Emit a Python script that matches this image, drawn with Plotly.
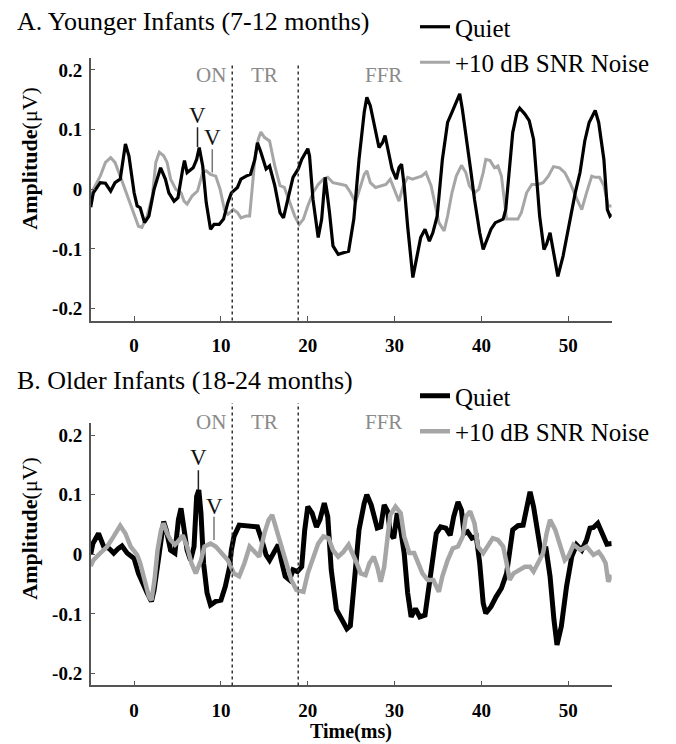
import plotly.graph_objects as go

# ---------------- data ----------------
t_young_quiet = [-5.0, -4.7, -3.9, -3.3, -2.7, -2.2, -1.6, -1.0, -0.6, 0.0, 0.35, 0.7, 1.2, 1.7, 2.3, 3.05,
                 3.6, 4.0, 4.6, 5.05, 5.6, 5.8, 6.1, 6.8, 7.2, 7.5, 7.9, 8.3, 8.8, 9.2, 9.8, 10.3, 10.8,
                 11.2, 11.9, 12.3, 12.9, 13.4, 13.9, 14.2, 14.6, 15.2, 15.6, 16.2, 16.8, 17.2, 17.7, 18.3,
                 18.9, 19.3, 20.0, 20.2, 20.6, 21.2, 21.6, 22.0, 22.5, 22.9, 23.5, 24.1, 24.7, 25.3, 25.9,
                 26.5, 26.8, 27.2, 27.8, 28.2, 28.6, 28.9, 29.3, 29.7, 30.2, 30.5, 30.8, 31.1, 31.5, 31.9,
                 32.1, 32.5, 33.0, 33.5, 34.0, 34.4, 34.9, 35.5, 36.1, 36.6, 37.1, 37.5, 37.8, 38.3, 38.8,
                 39.2, 39.8, 40.2, 40.6, 41.1, 41.6, 42.1, 42.5, 42.8, 43.25, 43.6, 44.1, 44.4, 45.0, 45.5,
                 46.0, 46.3, 46.7, 47.2, 47.5, 47.9, 48.3, 48.8, 49.4, 50.1, 50.8, 51.35, 51.9, 52.4, 52.9,
                 53.1, 53.5, 54.1, 54.5, 54.8, 55.0]
a_young_quiet = [-0.030, -0.006, 0.011, 0.010, -0.003, 0.011, 0.017, 0.076, 0.056, -0.006, -0.028, -0.031,
                 -0.056, -0.045, 0.000, 0.036, 0.017, -0.006, -0.020, -0.014, 0.034, 0.048, 0.028, 0.036,
                 0.050, 0.070, 0.039, -0.022, -0.067, -0.059, -0.059, -0.050, -0.022, -0.006, 0.003, 0.017,
                 0.022, 0.025, 0.050, 0.078, 0.062, 0.034, 0.039, 0.006, -0.039, -0.048, -0.017, 0.020,
                 0.034, 0.050, 0.068, 0.056, -0.017, -0.081, -0.050, 0.020, -0.039, -0.095, -0.109, -0.106,
                 -0.104, -0.050, 0.050, 0.129, 0.154, 0.140, 0.095, 0.070, 0.078, 0.090, 0.062, 0.034, 0.017,
                 0.036, 0.042, 0.006, -0.062, -0.129, -0.148, -0.118, -0.081, -0.067, -0.087, -0.073, -0.045,
                 0.050, 0.112, 0.129, 0.146, 0.160, 0.134, 0.084, 0.028, -0.017, -0.073, -0.101, -0.087,
                 -0.067, -0.056, -0.053, -0.050, -0.034, 0.034, 0.095, 0.129, 0.136, 0.126, 0.115, 0.084,
                 0.022, -0.045, -0.101, -0.092, -0.073, -0.106, -0.146, -0.112, -0.056, -0.006, 0.028, 0.081,
                 0.112, 0.126, 0.132, 0.112, 0.050, -0.034, -0.045, -0.042]

t_young_noise = [-5.0, -4.7, -3.9, -3.3, -2.7, -2.2, -1.6, -1.2, -0.6, 0.0, 0.5, 0.9, 1.5, 2.1, 2.5, 2.9,
                 3.4, 3.8, 4.2, 4.8, 5.4, 5.75, 6.1, 6.7, 7.3, 7.9, 8.3, 8.8, 9.4, 9.9, 10.4, 10.8, 11.4,
                 11.9, 12.3, 12.9, 13.3, 13.55, 13.9, 14.3, 14.6, 15.0, 15.6, 16.2, 16.8, 17.3, 17.9, 18.5,
                 19.0, 19.5, 20.0, 20.6, 21.2, 21.8, 22.3, 22.9, 23.9, 24.4, 24.9, 25.5, 26.1, 26.5, 26.8,
                 27.2, 27.8, 28.4, 29.0, 29.5, 30.1, 30.5, 31.0, 31.5, 32.05, 32.6, 33.1, 33.6, 34.2, 34.7,
                 35.1, 35.7, 36.1, 36.6, 37.1, 37.7, 38.2, 38.6, 39.2, 39.7, 40.2, 40.5, 41.0, 41.5, 41.9,
                 42.3, 42.7, 42.9, 43.45, 44.2, 44.6, 45.2, 45.8, 46.5, 47.1, 47.7, 48.3, 49.0, 49.6, 50.2,
                 51.0, 51.55, 52.1, 52.7, 53.1, 53.6, 54.1, 54.6, 55.0]
a_young_noise = [-0.014, 0.000, 0.022, 0.045, 0.053, 0.045, 0.022, 0.006, -0.017, -0.039, -0.062, -0.064,
                 -0.045, -0.011, 0.045, 0.062, 0.056, 0.045, 0.017, 0.000, -0.006, -0.020, -0.025, -0.011,
                 -0.003, 0.028, 0.031, 0.025, 0.022, 0.000, -0.034, -0.042, -0.034, -0.039, -0.048, -0.045,
                 -0.045, -0.006, 0.050, 0.084, 0.096, 0.087, 0.081, 0.039, 0.006, 0.003, -0.022, -0.045,
                 -0.059, -0.050, -0.028, -0.006, 0.008, 0.017, 0.020, 0.011, 0.008, 0.006, -0.005, -0.022,
                 0.006, 0.025, 0.031, 0.011, 0.003, 0.006, 0.008, 0.017, -0.006, -0.020, 0.006, 0.020, 0.017,
                 0.020, 0.022, 0.028, 0.006, -0.028, -0.056, -0.070, -0.045, -0.006, 0.022, 0.040, 0.028,
                 0.006, -0.006, 0.000, 0.028, 0.050, 0.048, 0.036, 0.039, 0.022, -0.028, -0.050, -0.050,
                 -0.050, -0.039, -0.006, 0.008, 0.008, 0.011, 0.022, 0.038, 0.036, 0.028, 0.011, -0.017,
                 -0.034, -0.006, 0.022, 0.020, 0.020, 0.006, -0.028, -0.028]

t_older_quiet = [-5.0, -4.75, -4.1, -3.5, -2.9, -2.35, -1.8, -1.4, -0.8, 0.0, 0.5, 1.1, 1.5, 2.0, 2.3, 2.9,
                 3.4, 3.7, 4.2, 4.7, 5.1, 5.4, 5.75, 6.1, 6.5, 6.9, 7.2, 7.45, 7.7, 8.0, 8.4, 8.8, 9.4, 10.0,
                 10.5, 11.0, 11.2, 11.5, 12.1, 12.9, 13.7, 14.2, 14.7, 15.2, 15.6, 16.2, 16.6, 16.95, 17.4,
                 17.9, 18.3, 18.8, 19.3, 19.65, 20.0, 20.5, 21.0, 21.4, 21.9, 22.3, 22.7, 23.3, 23.9, 24.5,
                 24.9, 25.3, 25.9, 26.5, 26.8, 27.3, 28.0, 28.4, 28.8, 29.2, 29.5, 29.9, 30.3, 30.7, 31.1,
                 31.5, 31.9, 32.4, 32.9, 33.5, 34.0, 34.45, 34.8, 35.3, 35.9, 36.4, 36.8, 37.3, 37.7, 38.0,
                 38.4, 38.9, 39.4, 39.8, 40.2, 40.5, 41.1, 41.7, 42.3, 42.9, 43.25, 43.6, 44.2, 44.8, 45.4,
                 45.6, 46.0, 46.5, 46.9, 47.4, 47.9, 48.35, 48.7, 49.2, 49.8, 50.4, 50.95, 51.55, 52.1, 52.5,
                 52.9, 53.4, 53.9, 54.45, 55.0]
a_older_quiet = [0.000, 0.018, 0.035, 0.013, 0.010, 0.002, 0.010, 0.014, 0.002, -0.007, -0.032, -0.054,
                 -0.065, -0.079, -0.060, 0.002, 0.055, 0.041, 0.007, 0.002, 0.058, 0.077, 0.041, 0.007,
                 -0.010, 0.013, 0.097, 0.108, 0.069, -0.015, -0.065, -0.085, -0.079, -0.077, -0.054, -0.021,
                 0.007, 0.030, 0.049, 0.048, 0.048, 0.046, 0.024, -0.001, -0.010, 0.007, 0.016, -0.010,
                 -0.037, -0.043, -0.026, -0.029, -0.021, 0.041, 0.080, 0.069, 0.046, 0.058, 0.086, 0.063,
                 -0.026, -0.093, -0.110, -0.125, -0.120, -0.050, 0.041, 0.086, 0.100, 0.083, 0.044, 0.046,
                 0.083, 0.072, 0.035, 0.027, 0.069, 0.041, 0.002, -0.065, -0.105, -0.091, -0.105, -0.102,
                 -0.054, 0.002, 0.035, 0.046, 0.044, 0.032, 0.063, 0.088, 0.074, 0.035, 0.038, 0.027, 0.030,
                 -0.015, -0.082, -0.099, -0.088, -0.071, -0.057, -0.032, 0.013, 0.041, 0.048, 0.049, 0.091,
                 0.105, 0.080, 0.030, -0.001, 0.013, -0.037, -0.110, -0.152, -0.121, -0.054, -0.004, 0.016,
                 0.007, 0.024, 0.044, 0.045, 0.052, 0.035, 0.017, 0.018]

t_older_noise = [-5.0, -4.7, -3.9, -3.1, -2.35, -1.6, -1.0, -0.4, 0.35, 0.7, 1.2, 1.7, 2.0, 2.35, 2.7, 3.1,
                 3.4, 3.8, 4.2, 4.7, 5.2, 5.6, 6.1, 6.6, 7.1, 7.7, 8.1, 8.8, 9.4, 10.0, 10.8, 11.5, 12.1,
                 12.7, 13.3, 13.9, 14.4, 15.0, 15.5, 15.9, 16.4, 16.95, 17.5, 18.1, 18.7, 19.5, 20.0, 20.6,
                 21.2, 21.8, 22.4, 22.9, 23.5, 24.1, 24.7, 25.5, 26.1, 26.65, 27.1, 27.6, 28.0, 28.4, 28.8,
                 29.2, 29.5, 30.1, 30.7, 31.1, 31.7, 32.25, 32.6, 33.2, 33.8, 34.45, 35.1, 35.5, 36.1, 36.7,
                 37.3, 37.85, 38.2, 38.7, 39.2, 39.6, 40.2, 40.7, 41.3, 41.9, 42.5, 42.9, 43.25, 43.7, 44.3,
                 45.0, 45.6, 46.0, 46.5, 47.1, 47.5, 47.9, 48.5, 49.0, 49.6, 50.0, 50.6, 51.4, 52.1, 52.9,
                 53.5, 53.9, 54.3, 54.6, 55.0]
a_older_noise = [-0.020, -0.010, 0.002, 0.013, 0.030, 0.048, 0.035, 0.013, -0.001, -0.015, -0.043, -0.071,
                 -0.077, -0.043, 0.007, 0.041, 0.052, 0.035, 0.024, 0.016, 0.024, 0.032, 0.013, -0.015,
                 -0.032, -0.010, 0.013, 0.018, 0.013, 0.002, -0.010, -0.032, -0.037, -0.015, 0.013, 0.004,
                 -0.004, 0.035, 0.058, 0.066, 0.041, 0.013, -0.010, -0.043, -0.060, -0.063, -0.032, -0.004,
                 0.018, 0.030, 0.027, 0.007, -0.004, 0.004, 0.016, -0.010, -0.032, -0.035, -0.015, -0.004,
                 -0.021, -0.046, -0.021, 0.030, 0.066, 0.080, 0.069, 0.030, 0.002, 0.002, -0.010, -0.032,
                 -0.043, -0.043, -0.063, -0.037, -0.010, 0.010, 0.013, 0.030, 0.063, 0.072, 0.052, 0.013,
                 0.002, 0.013, 0.027, 0.024, 0.013, -0.015, -0.043, -0.032, -0.026, -0.021, -0.021, -0.029,
                 -0.015, 0.002, 0.035, 0.058, 0.041, 0.018, -0.010, -0.004, 0.016, 0.007, 0.013, -0.001,
                 0.004, -0.004, -0.015, -0.046, -0.035]

for _t, _a in [(t_young_quiet, a_young_quiet), (t_young_noise, a_young_noise),
               (t_older_quiet, a_older_quiet), (t_older_noise, a_older_noise)]:
    assert len(_t) == len(_a), (len(_t), len(_a))

# region boundaries (ms) and region labels
boundaries = [11.3, 18.9]
region_labels = ["ON", "TR", "FFR"]
region_centers = [8.8, 15.0, 28.7]

# wave V markers: (time, line bottom, line top, label y)
waveV_young = [(7.3, 0.071, 0.104, 0.124), (9.0, 0.028, 0.067, 0.087)]
waveV_older = [(7.4, 0.108, 0.141, 0.162), (9.2, 0.024, 0.063, 0.081)]

x_ticks = [0, 10, 20, 30, 40, 50]
y_ticks = [-0.2, -0.1, 0, 0.1, 0.2]
y_ticktext = ["-0.2", "-0.1", "0", "0.1", "0.2"]

titles = ["A. Younger Infants (7-12 months)", "B. Older Infants (18-24 months)"]
series_names = ["Quiet", "+10 dB SNR Noise"]

# ---------------- figure ----------------
W, H = 676, 744
SERIF = "Liberation Serif"
BLACK = "#000000"
GRAY = "#a6a6a6"
AXC = "#555555"

def px(xp):
    return xp / W

def py(yp):
    return 1 - yp / H

fig = go.Figure()

panels = [
    dict(xa="x", ya="y", tq=t_young_quiet, aq=a_young_quiet, tn=t_young_noise, an=a_young_noise,
         wq=3.2, wn=3.0, legend="legend", v=waveV_young, gray_on_top=False),
    dict(xa="x2", ya="y2", tq=t_older_quiet, aq=a_older_quiet, tn=t_older_noise, an=a_older_noise,
         wq=5.0, wn=4.5, legend="legend2", v=waveV_older, gray_on_top=True),
]

for p in panels:
    quiet = go.Scatter(x=p["tq"], y=p["aq"], mode="lines", name=series_names[0], legendrank=1,
                       line=dict(color=BLACK, width=p["wq"]), xaxis=p["xa"], yaxis=p["ya"],
                       legend=p["legend"], hoverinfo="skip")
    noise = go.Scatter(x=p["tn"], y=p["an"], mode="lines", name=series_names[1], legendrank=2,
                       line=dict(color=GRAY, width=p["wn"]), xaxis=p["xa"], yaxis=p["ya"],
                       legend=p["legend"], hoverinfo="skip")
    order = [quiet, noise] if p["gray_on_top"] else [noise, quiet]
    for tr in order:
        fig.add_trace(tr)
    for i, (vt, v0, v1, vy) in enumerate(p["v"]):
        fig.add_trace(go.Scatter(x=[vt, vt], y=[v0, v1], mode="lines", showlegend=False,
                                 line=dict(color="#222222" if i == 0 else "#777777", width=1.5),
                                 xaxis=p["xa"], yaxis=p["ya"], hoverinfo="skip"))
        fig.add_annotation(x=vt, y=vy, xref=p["xa"], yref=p["ya"], text="V", showarrow=False,
                           font=dict(family=SERIF, size=23, color="#111111"), yanchor="middle")

axis_common = dict(showgrid=False, zeroline=False, showline=True, linecolor=AXC, linewidth=1.5,
                   ticks="inside", ticklen=5, tickwidth=1.2, tickcolor=AXC, mirror=False)

xdom = [px(90.7), px(611.7)]
ydoms = [[py(320.5), py(58.0)], [py(685.4), py(423.2)]]
tickfont = dict(family=SERIF, size=19, weight="bold", color=BLACK)
legfont = dict(family=SERIF, size=25, color=BLACK)

fig.update_layout(
    width=W, height=H, autosize=False,
    margin=dict(l=0, r=0, t=0, b=0),
    paper_bgcolor="white", plot_bgcolor="white",
    font=dict(family=SERIF, color=BLACK),
    xaxis=dict(domain=xdom, range=[-5, 55], tickvals=x_ticks, anchor="y",
               tickfont=tickfont, ticklabelstandoff=7, **axis_common),
    yaxis=dict(domain=ydoms[0], range=[-0.22, 0.22], tickvals=y_ticks, ticktext=y_ticktext,
               anchor="x", tickfont=tickfont, ticklabelstandoff=3, **axis_common),
    xaxis2=dict(domain=xdom, range=[-5, 55], tickvals=x_ticks, anchor="y2",
                tickfont=tickfont, ticklabelstandoff=7, **axis_common),
    yaxis2=dict(domain=ydoms[1], range=[-0.22, 0.22], tickvals=y_ticks, ticktext=y_ticktext,
                anchor="x2", tickfont=tickfont, ticklabelstandoff=3, **axis_common),
    legend=dict(x=px(415), y=py(4), xanchor="left", yanchor="top", bgcolor="rgba(0,0,0,0)",
                font=legfont, tracegroupgap=0, itemwidth=30),
    legend2=dict(x=px(415), y=py(373), xanchor="left", yanchor="top", bgcolor="rgba(0,0,0,0)",
                 font=legfont, tracegroupgap=0, itemwidth=30),
    showlegend=True,
)

# region boundaries and labels
label_y = [0.935, 1.006]
line_top = [0.981, 1.077]
for k, (xa, ya) in enumerate([("x", "y"), ("x2", "y2")]):
    for b in boundaries:
        fig.add_shape(type="line", xref=xa, yref=ya + " domain", x0=b, x1=b, y0=0, y1=line_top[k],
                      line=dict(color="#333333", width=1.5, dash="dot"))
    for lab, c in zip(region_labels, region_centers):
        fig.add_annotation(x=c, y=label_y[k], xref=xa, yref=ya + " domain", text=lab, showarrow=False,
                           font=dict(family=SERIF, size=21, color="#8a8a8a"), yanchor="middle")

# panel titles
for title, yc in zip(titles, [22, 380]):
    fig.add_annotation(x=px(15), y=py(yc), xref="paper", yref="paper", text=title, showarrow=False,
                       xanchor="left", yanchor="middle", font=dict(family=SERIF, size=26, color=BLACK))

# y-axis titles
for yc in [158, 528]:
    fig.add_annotation(x=px(28.7), y=py(yc), xref="paper", yref="paper",
                       text="<b>Amplitude</b>(\u03bcV)", textangle=-90, showarrow=False,
                       xanchor="center", yanchor="middle", font=dict(family=SERIF, size=22, color=BLACK))

# x-axis title
fig.add_annotation(x=px(351), y=0, xref="paper", yref="paper", text="<b>Time(ms)</b>",
                   showarrow=False, xanchor="center", yanchor="bottom", borderpad=0,
                   font=dict(family=SERIF, size=20, color=BLACK))

fig.write_html("out.html", config={"displayModeBar": False},
               post_script="document.body.style.margin='0';")
